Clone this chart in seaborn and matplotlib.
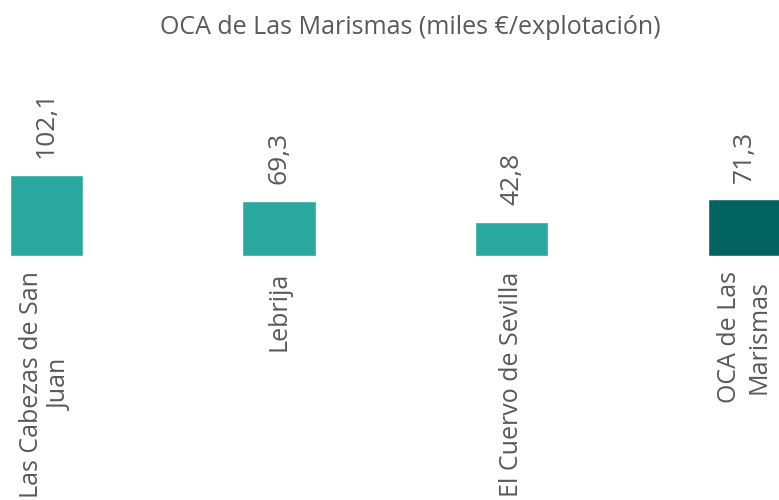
import matplotlib
matplotlib.use("Agg")
import matplotlib.pyplot as plt
import seaborn as sns
import pandas as pd

categories = ["Las Cabezas de San\nJuan", "Lebrija", "El Cuervo de Sevilla", "OCA de Las\nMarismas"]
values = [102.1, 69.3, 42.8, 71.3]
value_labels = ["102,1", "69,3", "42,8", "71,3"]
colors = ["#2AA79F", "#2AA79F", "#2AA79F", "#03635F"]
title = "OCA de Las Marismas (miles €/explotación)"

sns.set_theme(style="white")
plt.rcParams['font.family'] = ['Open Sans', 'DejaVu Sans']

df = pd.DataFrame({"cat": categories, "val": values})

W, H = 779, 500
fig = plt.figure(figsize=(W / 100, H / 100), dpi=100)
ax = fig.add_axes([-70.05 / W, 244 / H, 930.8 / W, 119.25 / H])
sns.barplot(data=df, x="cat", y="val", hue="cat", palette=colors, legend=False,
            width=0.314, ax=ax, saturation=1)
ax.set_ylim(0, 150)
ax.set_xlim(-0.5, 3.5)
for s in ax.spines.values():
    s.set_visible(False)
ax.set_yticks([])
ax.set_xlabel("")
ax.set_ylabel("")
ax.tick_params(axis="x", length=0, pad=11, labelsize=18, labelcolor="#595959")
for lab in ax.get_xticklabels():
    lab.set_rotation(90)
    lab.set_ha("center")
    lab.set_va("top")
    lab.set_multialignment("center")

for i, (v, t) in enumerate(zip(values, value_labels)):
    ax.annotate(t, xy=(i, v), xytext=(0, 12), textcoords="offset points",
                rotation=90, ha="center", va="bottom", fontsize=19, color="#595959")

fig.text(410 / W, 1 - 27 / H, title, ha="center", va="center", fontsize=18, color="#595959")

fig.savefig("out.png", dpi=100)
